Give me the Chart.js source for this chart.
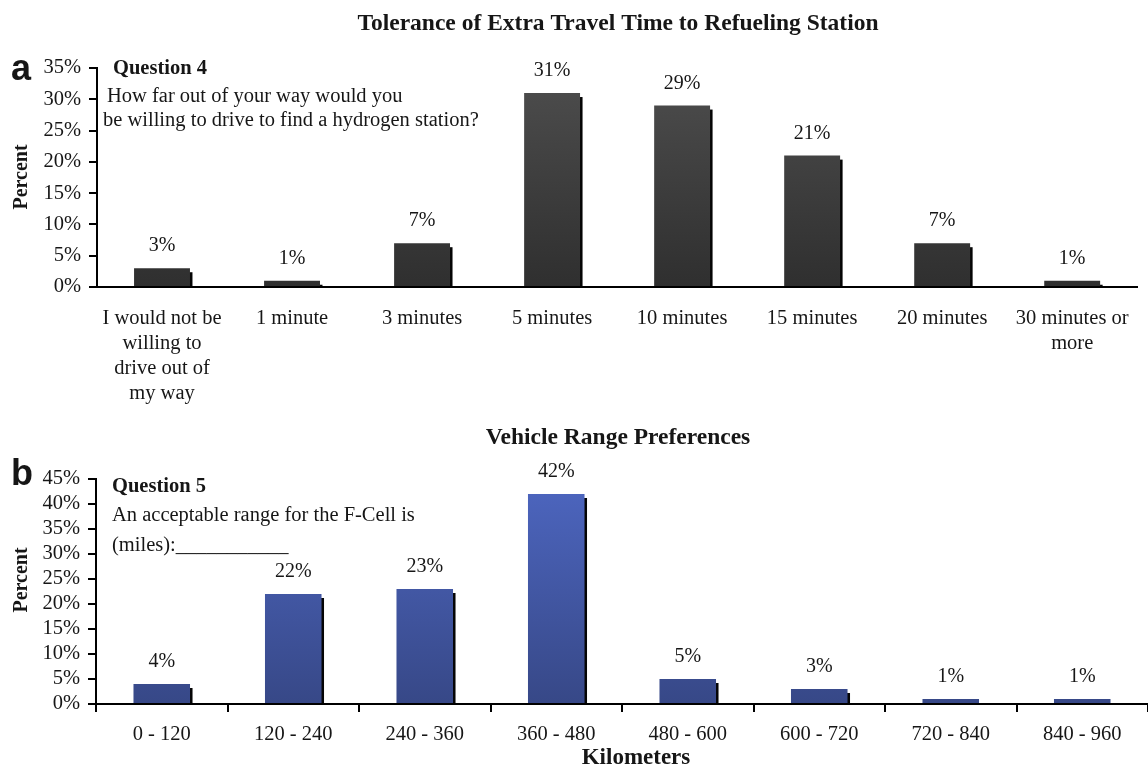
<!DOCTYPE html>
<html>
<head>
<meta charset="utf-8">
<script src="https://cdn.jsdelivr.net/npm/chart.js@4.4.1/dist/chart.umd.min.js"></script>
<style>
  html, body { margin: 0; padding: 0; background: #fff; }
  #wrap { position: relative; width: 1148px; height: 767px; overflow: hidden; }
  .panel { position: absolute; left: 0; width: 1148px; }
</style>
</head>
<body>
<div id="wrap">
  <div class="panel" style="top:0;height:410px"><canvas id="travel"></canvas></div>
  <div class="panel" style="top:410px;height:357px"><canvas id="range"></canvas></div>
</div>
<script>
// Question 4: tolerance of extra travel time
const travelCategories = [
  ["I would not be", "willing to", "drive out of", "my way"],
  "1 minute", "3 minutes", "5 minutes", "10 minutes", "15 minutes", "20 minutes",
  ["30 minutes or", "more"]
];
const travelPercent = [3, 1, 7, 31, 29, 21, 7, 1];
const travelTicks = [0, 5, 10, 15, 20, 25, 30, 35];

// Question 5: acceptable vehicle range
const rangeCategories = ["0 - 120", "120 - 240", "240 - 360", "360 - 480",
  "480 - 600", "600 - 720", "720 - 840", "840 - 960"];
const rangePercent = [4, 22, 23, 42, 5, 3, 1, 1];
const rangeTicks = [0, 5, 10, 15, 20, 25, 30, 35, 40, 45];

const SERIF = '"Liberation Serif", "Times New Roman", serif';
const SANS = '"Liberation Sans", Arial, sans-serif';
const INK = '#161616';
const TEXT_SIZE = 20.5;

// vertical gradient for the bars
function barGradient(top, bottom) {
  return (ctx) => {
    const area = ctx.chart.chartArea;
    if (!area) return bottom;
    const g = ctx.chart.ctx.createLinearGradient(0, area.top, 0, area.bottom);
    g.addColorStop(0, top);
    g.addColorStop(1, bottom);
    return g;
  };
}

// dark drop-shadow strip along the right side of each bar
const barShadow = {
  id: 'barShadow',
  beforeDatasetsDraw(chart) {
    const c = chart.ctx;
    const meta = chart.getDatasetMeta(0);
    c.save();
    c.fillStyle = '#050505';
    meta.data.forEach((bar) => {
      const p = bar.getProps(['x', 'y', 'base', 'width'], true);
      const h = p.base - p.y;
      if (h > 5) c.fillRect(p.x + p.width / 2 - 1, p.y + 4, 3.5, h - 4);
    });
    c.restore();
  }
};

// "n%" above every bar
const valueLabels = {
  id: 'valueLabels',
  afterDatasetsDraw(chart) {
    const c = chart.ctx;
    const meta = chart.getDatasetMeta(0);
    const values = chart.data.datasets[0].data;
    c.save();
    c.font = '20px ' + SERIF;
    c.fillStyle = INK;
    c.textAlign = 'center';
    c.textBaseline = 'middle';
    meta.data.forEach((bar, i) => {
      c.fillText(values[i] + '%', bar.x, bar.y - 22);
    });
    c.restore();
  }
};

// free text: titles, panel letters, question wording, axis titles
const freeText = {
  id: 'freeText',
  afterDraw(chart, args, opts) {
    const c = chart.ctx;
    (opts.items || []).forEach((t) => {
      c.save();
      c.font = t.font;
      c.fillStyle = INK;
      c.textAlign = t.align || 'left';
      c.textBaseline = t.baseline || 'middle';
      c.translate(t.x, t.y);
      if (t.rotate) c.rotate(t.rotate);
      c.fillText(t.text, 0, 0);
      c.restore();
    });
  }
};

function makeChart(id, cfg) {
  return new Chart(document.getElementById(id), {
    type: 'bar',
    data: {
      labels: cfg.labels,
      datasets: [{
        data: cfg.values,
        backgroundColor: barGradient(cfg.colorTop, cfg.colorBottom),
        borderWidth: 0,
        categoryPercentage: 1,
        barPercentage: 0.43
      }]
    },
    options: {
      responsive: true,
      maintainAspectRatio: false,
      animation: false,
      events: [],
      layout: { padding: { left: 0, top: cfg.top, right: cfg.right, bottom: 0 } },
      plugins: {
        legend: { display: false },
        tooltip: { enabled: false },
        freeText: { items: cfg.text }
      },
      scales: {
        x: {
          grid: {
            display: true,
            drawOnChartArea: false,
            drawTicks: cfg.xTicks,
            tickLength: 8,
            color: '#000',
            lineWidth: 2,
            offset: true
          },
          border: { display: true, color: '#000', width: 2 },
          ticks: {
            color: INK,
            font: { family: SERIF, size: TEXT_SIZE, lineHeight: 1.22 },
            padding: cfg.xPad,
            maxRotation: 0,
            autoSkip: false
          },
          afterFit(scale) { scale.height = cfg.xHeight; }
        },
        y: {
          min: 0,
          max: cfg.ticks[cfg.ticks.length - 1],
          afterBuildTicks(scale) { scale.ticks = cfg.ticks.map((v) => ({ value: v })); },
          grid: {
            drawOnChartArea: false,
            drawTicks: true,
            tickLength: 8,
            color: '#000',
            lineWidth: 2
          },
          border: { display: true, color: '#000', width: 2 },
          ticks: {
            color: INK,
            font: { family: SERIF, size: TEXT_SIZE },
            padding: 8,
            autoSkip: false,
            callback: (v) => v + '%'
          },
          afterFit(scale) { scale.width = cfg.yWidth; }
        }
      }
    },
    plugins: [barShadow, valueLabels, freeText]
  });
}

makeChart('travel', {
  labels: travelCategories,
  values: travelPercent,
  ticks: travelTicks,
  colorTop: '#4e4e4e',
  colorBottom: '#2f2f2f',
  top: 68, right: 7, yWidth: 97, xHeight: 123, xPad: 19, xTicks: false,
  text: [
    { text: 'Tolerance of Extra Travel Time to Refueling Station', x: 618, y: 24, align: 'center', font: 'bold 23.5px ' + SERIF },
    { text: 'a', x: 11, y: 80, baseline: 'alphabetic', font: 'bold 36px ' + SANS },
    { text: 'Question 4', x: 113, y: 69, font: 'bold 20.5px ' + SERIF },
    { text: 'How far out of your way would you', x: 107, y: 97, font: TEXT_SIZE + 'px ' + SERIF },
    { text: 'be willing to drive to find a hydrogen station?', x: 103, y: 121, font: TEXT_SIZE + 'px ' + SERIF },
    { text: 'Percent', x: 22, y: 177, align: 'center', rotate: -Math.PI / 2, font: 'bold 20px ' + SERIF }
  ]
});

makeChart('range', {
  labels: rangeCategories,
  values: rangePercent,
  ticks: rangeTicks,
  colorTop: '#4d66c0',
  colorBottom: '#374887',
  top: 69, right: 0, yWidth: 96, xHeight: 63, xPad: 10, xTicks: true,
  text: [
    { text: 'Vehicle Range Preferences', x: 618, y: 28, align: 'center', font: 'bold 23.5px ' + SERIF },
    { text: 'b', x: 11, y: 75, baseline: 'alphabetic', font: 'bold 36px ' + SANS },
    { text: 'Question 5', x: 112, y: 77, font: 'bold 20.5px ' + SERIF },
    { text: 'An acceptable range for the F-Cell is', x: 112, y: 106, font: TEXT_SIZE + 'px ' + SERIF },
    { text: '(miles):___________', x: 112, y: 136, font: TEXT_SIZE + 'px ' + SERIF },
    { text: 'Percent', x: 22, y: 170, align: 'center', rotate: -Math.PI / 2, font: 'bold 20px ' + SERIF },
    { text: 'Kilometers', x: 636, y: 348, align: 'center', font: 'bold 23px ' + SERIF }
  ]
});
</script>
</body>
</html>
